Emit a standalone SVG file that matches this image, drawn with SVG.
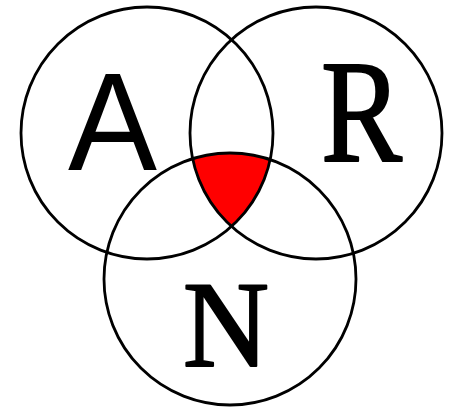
<svg xmlns="http://www.w3.org/2000/svg" width="459" height="409" viewBox="0 0 459 409">
<style>
.c{fill:none;stroke:#000;stroke-width:2.8}
.s{font-family:"Liberation Sans",Arial,sans-serif}
.t{font-family:"Liberation Serif","Times New Roman",serif;stroke:#000;stroke-width:2.2;stroke-linejoin:round}
</style>
<rect width="459" height="409" fill="#fff"/>
<g id="region-ARN">
<path d="M192.6,158.6 A126,126 0 0,1 270.1,159.6 A126,126 0 0,1 231.5,226.5 A126,126 0 0,1 192.6,158.6 Z" fill="#ff0000"/>
</g>
<g id="set-A"><circle class="c" cx="147" cy="133" r="126"/><text class="s" x="68" y="170" font-size="140" textLength="89" lengthAdjust="spacingAndGlyphs">A</text></g>
<g id="set-R"><circle class="c" cx="316" cy="133" r="126"/><text class="t" x="321" y="161" font-size="146" textLength="81" lengthAdjust="spacingAndGlyphs">R</text></g>
<g id="set-N"><circle class="c" cx="230" cy="279" r="126"/><text class="t" x="183" y="366" font-size="122" textLength="86" lengthAdjust="spacingAndGlyphs">N</text></g>
</svg>
